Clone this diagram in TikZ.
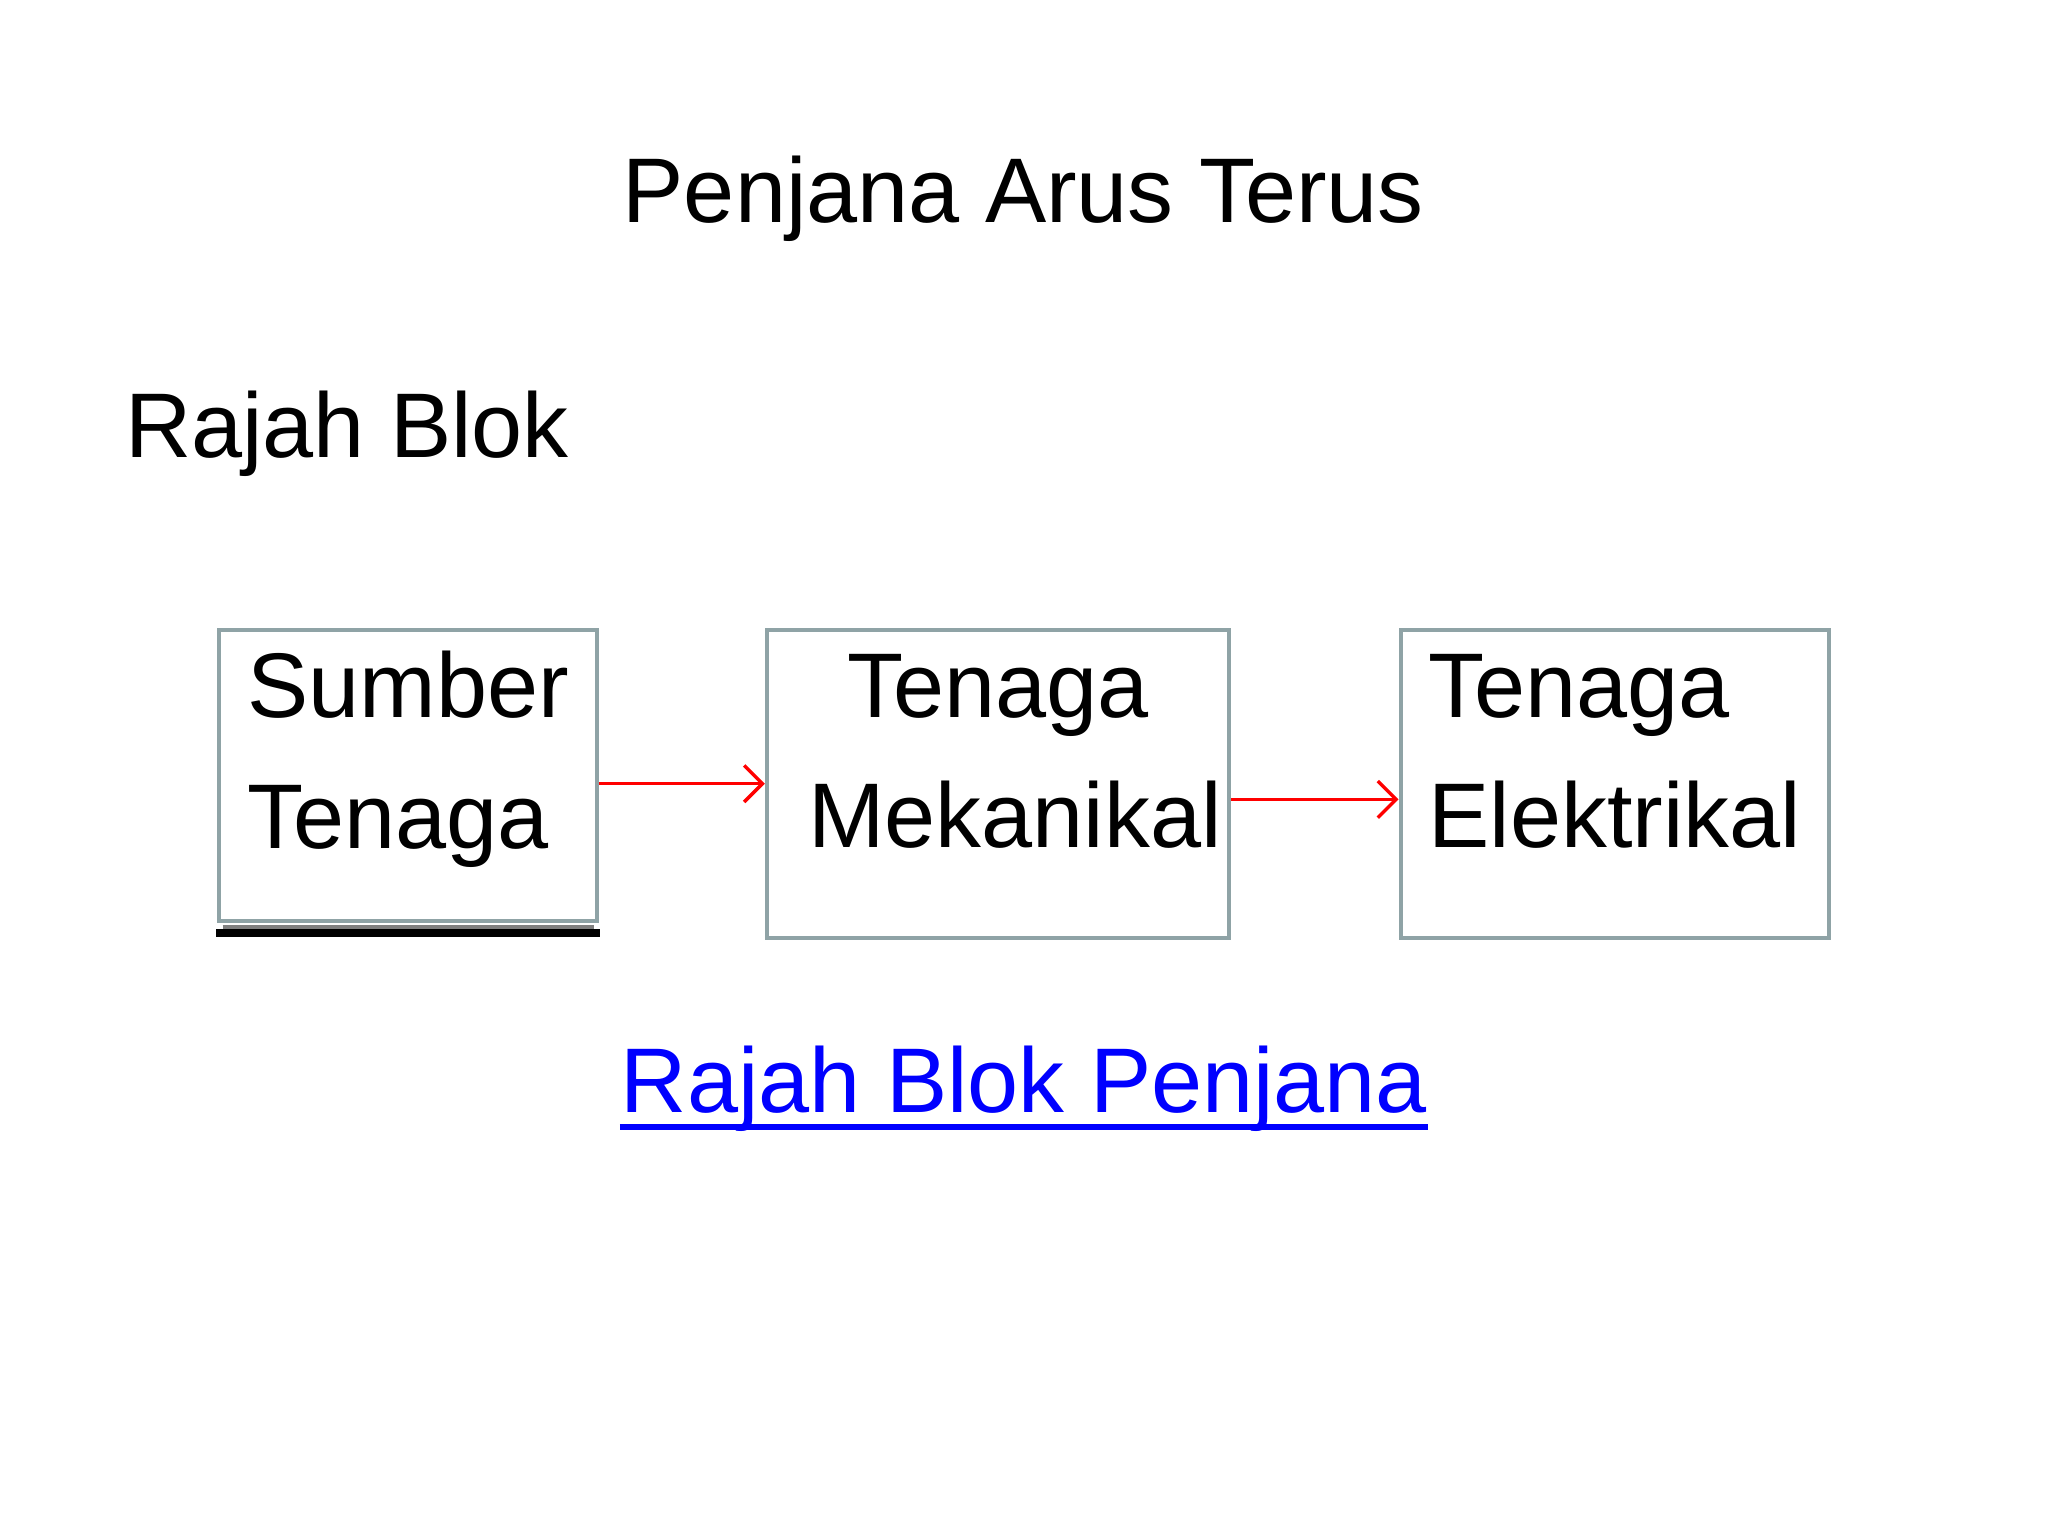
\documentclass[tikz,border=0pt]{standalone}
\usepackage{fontspec}
\setmainfont{Liberation Sans}
\usetikzlibrary{positioning, arrows.meta}

\begin{document}
\begin{tikzpicture}[>={Straight Barb[length=1.4mm, width=2.8mm]},
    teks/.style={inner sep=0pt, anchor=base, font=\fontsize{20}{24}\selectfont},
    blok/.style={draw=boxgray, line width=0.9pt, inner sep=0pt, align=center,
        font=\fontsize{20}{28.45}\selectfont},
    panah/.style={->, red, line width=0.75pt}]
            \definecolor{boxgray}{RGB}{143,163,166}
            \useasboundingbox (0,0) rectangle (15.68,-11.74);
            \node[teks] (judul) at (7.835, -1.70) {Penjana Arus Terus};
            \node[teks, anchor=base west] (rajah) at (0.95, -3.50) {Rajah Blok};
            \node[blok, align=left, minimum width=2.89cm, minimum height=2.23cm, text depth=11pt] (sumber) at (3.125, -5.935) {Sumber\\Tenaga};
            \node[blok, minimum width=3.54cm, minimum height=2.36cm, text depth=14.25pt, right=1.27cm of sumber.north east, anchor=north west] (mekanikal) {Tenaga\\\hspace*{0.26cm}Mekanikal};
            \node[blok, align=left, minimum width=3.28cm, minimum height=2.36cm, text depth=14.25pt, right=1.28cm of mekanikal.north east, anchor=north west] (elektrikal) {Tenaga\\Elektrikal};
            \draw[gray, line width=0.9pt] ([shift={(0.04,-0.035)}]sumber.south west) -- ([shift={(-0.04,-0.035)}]sumber.south east);
            \draw[line width=1.7pt] ([shift={(-0.01,-0.08)}]sumber.south west) -- ([shift={(0.01,-0.08)}]sumber.south east);
            \draw[panah] ([yshift=-0.65mm]sumber.east) -- ([yshift=-0.65mm]sumber.east -| mekanikal.west);
            \draw[panah] ([yshift=-1.2mm]mekanikal.east) -- ([yshift=-1.2mm]mekanikal.east -| elektrikal.west);
            \node[teks, blue] (pautan) at (7.84, -8.52) {Rajah Blok Penjana};
            \draw[blue, line width=1.3pt] ([yshift=-1.1mm]pautan.base west) -- ([yshift=-1.1mm]pautan.base east);
        \end{tikzpicture}
\end{document}
